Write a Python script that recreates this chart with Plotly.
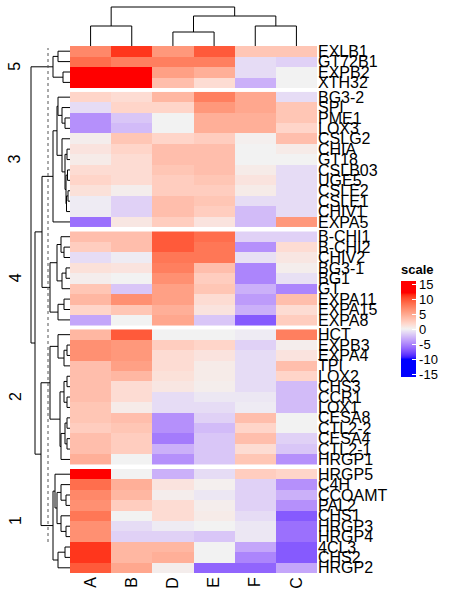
import plotly.graph_objects as go

# ---------------- data ----------------
COLUMNS = ["A", "B", "D", "E", "F", "C"]
GROUP_NAMES = ["5", "3", "4", "2", "1"]

ROWS_G5 = ["EXLB1", "GT72B1", "EXPB2", "XTH32"]
VALS_G5 = [
    [7, 11, 6, 9.5, 3, 3],
    [8.5, 7.5, 7.5, 7.5, -1, -1.5],
    [13, 13, 5.5, 4.5, -1, 0],
    [12, 13, 3.5, 1.5, -3, 0],
]
ROWS_G3 = ["BG3-2", "SPI", "PME1", "LOX3", "CSLG2", "CHIA", "GT18", "CSLB03",
           "UGE5", "CSLE2", "CSLE1", "CHIV1", "EXPA5"]
VALS_G3 = [
    [2, 1.5, 4, 7.5, 5, -1],
    [-1, 2, 2, 6, 5, 3],
    [-4.5, -2, 0, 4.5, 4.5, 3],
    [-4.5, -2.5, 0, 4.5, 4.5, 2],
    [0.3, 3, 2, 2.5, 0.2, 3.5],
    [1, 2, 3.5, 3.5, 0, 0.5],
    [0.5, 1.5, 3.5, 3.5, 0, 0],
    [1.5, 1.5, 3, 3.5, 0.5, -1],
    [2, 1.5, 2.5, 3, 1, -1],
    [1.2, 0.3, 2.5, 2.5, 0.5, -1],
    [-0.3, -1.5, 3.5, 3, -1, -1],
    [-0.3, -1.5, 3.5, 2.5, -2.5, -1],
    [-6, 0.8, 2.5, 1, -2.5, 6],
]
ROWS_G4 = ["B-CHI1", "B-CHI2", "CHIV2", "BG3-1", "BG1", "GT", "EXPA11", "EXPA15", "EXPA8"]
VALS_G4 = [
    [3.5, 3.5, 9.5, 8.5, -1.5, -1.5],
    [2.5, 3.5, 9.5, 8, -4.5, 1.5],
    [-1, -0.3, 8, 8, -0.8, 0.8],
    [1.2, 1, 7.5, 3.5, -5, 0.3],
    [0.3, 0, 6.5, 2.5, -5, -0.8],
    [3, -2, 5.5, 3, -3, -5],
    [4, 6.5, 5.5, 1.5, -4, 3.5],
    [2, 3, 4.5, 1, -3, 1.5],
    [-3.5, 0, 5, -2, -7, 2.5],
]
ROWS_G2 = ["HCT", "EXPB3", "EXPA4", "TPI", "LOX2", "CHS3", "CCR1", "LOX1", "CESA8",
           "CTL2-2", "CESA4", "CTL2-1", "HRGP1"]
VALS_G2 = [
    [4, 9.5, 0, 0, -0.3, 7.5],
    [6.5, 6, 2.5, 2, -1.5, 0.3],
    [6.5, 6, 1.5, 1, -1, 1],
    [3.5, 5.5, 1.5, 0.5, -1, 3.5],
    [3.5, 4, 1.2, 0.5, -1, 2],
    [3.5, 1.5, 0.8, 0.3, -1, -2.5],
    [3.5, 1.5, -1, -0.5, -0.5, -2.5],
    [3, 0.5, -1, -1, -0.3, -2.5],
    [3, 3.5, -4.5, -1.5, 3.5, 0],
    [2.5, 3, -4.5, -2.5, 2, 0],
    [3.5, 2.5, -5.5, -2, 3.5, -1.5],
    [3.5, 2.5, -3, -2, 1.5, -2],
    [4.5, 0, -4.5, -2, 3, -4.5],
]
ROWS_G1 = ["HRGP5", "C4H", "CCOAMT", "PAL2", "CHS1", "HRGP3", "HRGP4", "4CL3", "CHS2", "HRGP2"]
VALS_G1 = [
    [13, 0, -3, -1, 2.5, 2],
    [8.5, 4.5, 1, 0.2, -1.5, -4.5],
    [7, 4, 0.3, -0.5, -1.5, -3],
    [6.5, 2.5, 1.5, 0.3, -1.5, -4.5],
    [8, 0, 1.5, 0.5, -1, -7],
    [6.5, -1, -0.3, 0, -0.5, -6],
    [6.5, -1.5, -1.5, -2, -0.5, -6],
    [11, 4, 4, 0, -3.5, -7],
    [11, 4, 4.5, 0, -5, -7],
    [9.5, 5, 0.3, -6.5, -6.5, -3.5],
]

GROUP_ROWS = [ROWS_G5, ROWS_G3, ROWS_G4, ROWS_G2, ROWS_G1]
GROUP_VALS = [VALS_G5, VALS_G3, VALS_G4, VALS_G2, VALS_G1]

# dendrograms: (left, right, merge height)
COL_TREE = (("A", "B", 20), (("D", "E", 14), ("F", "C", 20), 30), 39)

TREE_G5 = (("EXLB1", "GT72B1", 12), ("EXPB2", "XTH32", 7), 17)
TREE_G3 = (((("BG3-2", ("SPI", ("PME1", "LOX3", 5), 8), 12)),
            ("CSLG2", (("CHIA", "GT18", 3),
                       (("CSLB03", "UGE5", 2.5), (("CSLE2", "CSLE1", 2), "CHIV1", 3.5), 4), 5), 8), 13),
           "EXPA5", 17)
TREE_G4 = ((("B-CHI1", ("B-CHI2", "CHIV2", 6), 9), (("BG3-1", "BG1", 4), "GT", 8), 13),
           (("EXPA11", "EXPA15", 6), "EXPA8", 12), 20)
TREE_G2 = (("HCT", (("EXPB3", "EXPA4", 3), "TPI", 6), 12),
           ((("LOX2", "CHS3", 3), ("CCR1", "LOX1", 3), 6),
            ((("CESA8", "CTL2-2", 3), ("CESA4", "CTL2-1", 3), 5), "HRGP1", 9), 10), 20)
TREE_G1 = (("HRGP5", (("C4H", ("CCOAMT", "PAL2", 4), 9), ("CHS1", ("HRGP3", "HRGP4", 4), 9), 13), 15),
           (("4CL3", "CHS2", 5), "HRGP2", 12), 17)
ROW_TREE = (TREE_G5, ((TREE_G3, TREE_G4, 28), (TREE_G2, TREE_G1, 29), 35), 39)
CUT_HEIGHT = 22

SCALE_TICKS = [-15, -10, -5, 0, 5, 10, 15]
COLOR_BREAKS = [-10, 0, 12]
BREAK_COLORS = [(0, 0, 255), (242, 242, 242), (255, 0, 0)]
ZMIN, ZMAX = -16, 16

# ---------------- colour ramp (LAB interpolation) ----------------
def _lin(c):
    c = c / 255.0
    return c / 12.92 if c <= 0.04045 else ((c + 0.055) / 1.055) ** 2.4

def _gam(c):
    c = max(0.0, min(1.0, c))
    v = 12.92 * c if c <= 0.0031308 else 1.055 * c ** (1 / 2.4) - 0.055
    return int(round(v * 255))

WHITE = (0.95047, 1.0, 1.08883)

def rgb2lab(rgb):
    r, g, b = (_lin(v) for v in rgb)
    X = 0.4124 * r + 0.3576 * g + 0.1805 * b
    Y = 0.2126 * r + 0.7152 * g + 0.0722 * b
    Z = 0.0193 * r + 0.1192 * g + 0.9505 * b
    def f(t):
        return t ** (1 / 3) if t > 0.008856 else 7.787 * t + 16 / 116
    fx, fy, fz = f(X / WHITE[0]), f(Y / WHITE[1]), f(Z / WHITE[2])
    return (116 * fy - 16, 500 * (fx - fy), 200 * (fy - fz))

def lab2rgb(lab):
    L, a, b = lab
    fy = (L + 16) / 116
    fx = fy + a / 500
    fz = fy - b / 200
    def finv(t):
        return t ** 3 if t ** 3 > 0.008856 else (t - 16 / 116) / 7.787
    X, Y, Z = finv(fx) * WHITE[0], finv(fy) * WHITE[1], finv(fz) * WHITE[2]
    r = 3.2406 * X - 1.5372 * Y - 0.4986 * Z
    g = -0.9689 * X + 1.8758 * Y + 0.0415 * Z
    bb = 0.0557 * X - 0.2040 * Y + 1.0570 * Z
    return (_gam(r), _gam(g), _gam(bb))

def ramp(v):
    v = max(COLOR_BREAKS[0], min(COLOR_BREAKS[-1], v))
    for i in range(len(COLOR_BREAKS) - 1):
        lo, hi = COLOR_BREAKS[i], COLOR_BREAKS[i + 1]
        if lo <= v <= hi:
            t = (v - lo) / (hi - lo)
            l1, l2 = rgb2lab(BREAK_COLORS[i]), rgb2lab(BREAK_COLORS[i + 1])
            return lab2rgb(tuple(a + (b - a) * t for a, b in zip(l1, l2)))
    return BREAK_COLORS[-1]

N_STOPS = 129
colorscale = []
for k in range(N_STOPS):
    frac = k / (N_STOPS - 1)
    v = ZMIN + frac * (ZMAX - ZMIN)
    r, g, b = ramp(v)
    colorscale.append([frac, f"rgb({r},{g},{b})"])

# ---------------- layout geometry ----------------
W, H = 450, 600
HM_LEFT, HM_RIGHT = 70, 317
HM_TOP, HM_BOTTOM = 46, 573
GAP = 0.42
FONT = "Liberation Sans, Arial, sans-serif"

row_pos = {}
group_pos = []
idx = 0
for g, rows in enumerate(GROUP_ROWS):
    ps = []
    for name in rows:
        p = idx + g * GAP
        row_pos[name] = p
        ps.append(p)
        idx += 1
    group_pos.append(ps)
y_max = group_pos[-1][-1] + 0.5

col_pos = {c: i for i, c in enumerate(COLUMNS)}

def dendro(node, pos, segs):
    if isinstance(node, str):
        return pos[node], 0.0
    l, r, h = node
    pl, hl = dendro(l, pos, segs)
    pr, hr = dendro(r, pos, segs)
    segs.append((pl, hl, pl, h))
    segs.append((pr, hr, pr, h))
    segs.append((pl, h, pr, h))
    return (pl + pr) / 2, h

fig = go.Figure()

for g in range(len(GROUP_ROWS)):
    fig.add_trace(go.Heatmap(
        z=GROUP_VALS[g], x=list(range(len(COLUMNS))), y=group_pos[g],
        colorscale=colorscale, zmin=ZMIN, zmax=ZMAX,
        showscale=(g == 0), xaxis="x", yaxis="y", hoverinfo="skip",
        colorbar=dict(
            title=dict(text="<b>scale</b>", side="top", font=dict(size=13, color="black", family=FONT)),
            tickvals=SCALE_TICKS, ticktext=[str(t) for t in SCALE_TICKS],
            tickfont=dict(size=13, color="black", family=FONT),
            ticks="inside", tickcolor="white", ticklen=4, tickwidth=1,
            thickness=15, lenmode="pixels", len=116,
            x=401 / W, xanchor="left", y=1 - 319 / H, yanchor="middle",
            xpad=0, ypad=0, outlinewidth=0, ticklabelposition="outside",
        ),
    ))

# column dendrogram
segs = []
dendro(COL_TREE, col_pos, segs)
xs, ys = [], []
for x0, y0, x1, y1 in segs:
    xs += [x0, x1, None]
    ys += [y0, y1, None]
fig.add_trace(go.Scatter(x=xs, y=ys, mode="lines", line=dict(color="black", width=1),
                         xaxis="x", yaxis="y2", hoverinfo="skip", showlegend=False))

# row dendrogram
segs = []
dendro(ROW_TREE, row_pos, segs)
xs, ys = [], []
for p0, h0, p1, h1 in segs:
    xs += [h0, h1, None]
    ys += [p0, p1, None]
fig.add_trace(go.Scatter(x=xs, y=ys, mode="lines", line=dict(color="black", width=1),
                         xaxis="x2", yaxis="y", hoverinfo="skip", showlegend=False))

all_rows = [r for rows in GROUP_ROWS for r in rows]
fig.update_layout(
    width=W, height=H, margin=dict(l=0, r=0, t=0, b=0, autoexpand=False),
    paper_bgcolor="white", plot_bgcolor="white",
    font=dict(family=FONT, color="black"),
    showlegend=False,
    xaxis=dict(domain=[HM_LEFT / W, HM_RIGHT / W], range=[-0.5, len(COLUMNS) - 0.5],
               tickvals=list(range(len(COLUMNS))), ticktext=COLUMNS, tickangle=-90,
               tickfont=dict(size=16, color="black"), showgrid=False, zeroline=False,
               showline=False, ticks="", anchor="y", fixedrange=True, automargin=False),
    yaxis=dict(domain=[1 - HM_BOTTOM / H, 1 - HM_TOP / H], range=[y_max, -0.5],
               tickvals=[row_pos[r] for r in all_rows], ticktext=all_rows, side="right",
               tickfont=dict(size=16, color="black"), showgrid=False, zeroline=False,
               showline=False, ticks="", anchor="x", fixedrange=True, automargin=False),
    xaxis2=dict(domain=[0, HM_LEFT / W], range=[HM_LEFT, 0], visible=False, anchor="y"),
    yaxis2=dict(domain=[1 - HM_TOP / H, 1], range=[0, HM_TOP], visible=False, anchor="x"),
)

fig.add_shape(type="line", xref="x2", yref="paper", x0=CUT_HEIGHT, x1=CUT_HEIGHT,
              y0=1 - 542 / H, y1=1 - 48 / H, line=dict(color="#555555", width=1, dash="dot"))

for g, name in enumerate(GROUP_NAMES):
    ps = group_pos[g]
    fig.add_annotation(text=name, xref="paper", yref="y", x=15 / W, xanchor="center",
                       y=(ps[0] + ps[-1]) / 2, yanchor="middle",
                       textangle=-90, showarrow=False, font=dict(size=16, color="black"))

fig.write_html("out.html", config={"displayModeBar": False},
               post_script="document.body.style.margin='0';document.body.style.overflow='hidden';")
